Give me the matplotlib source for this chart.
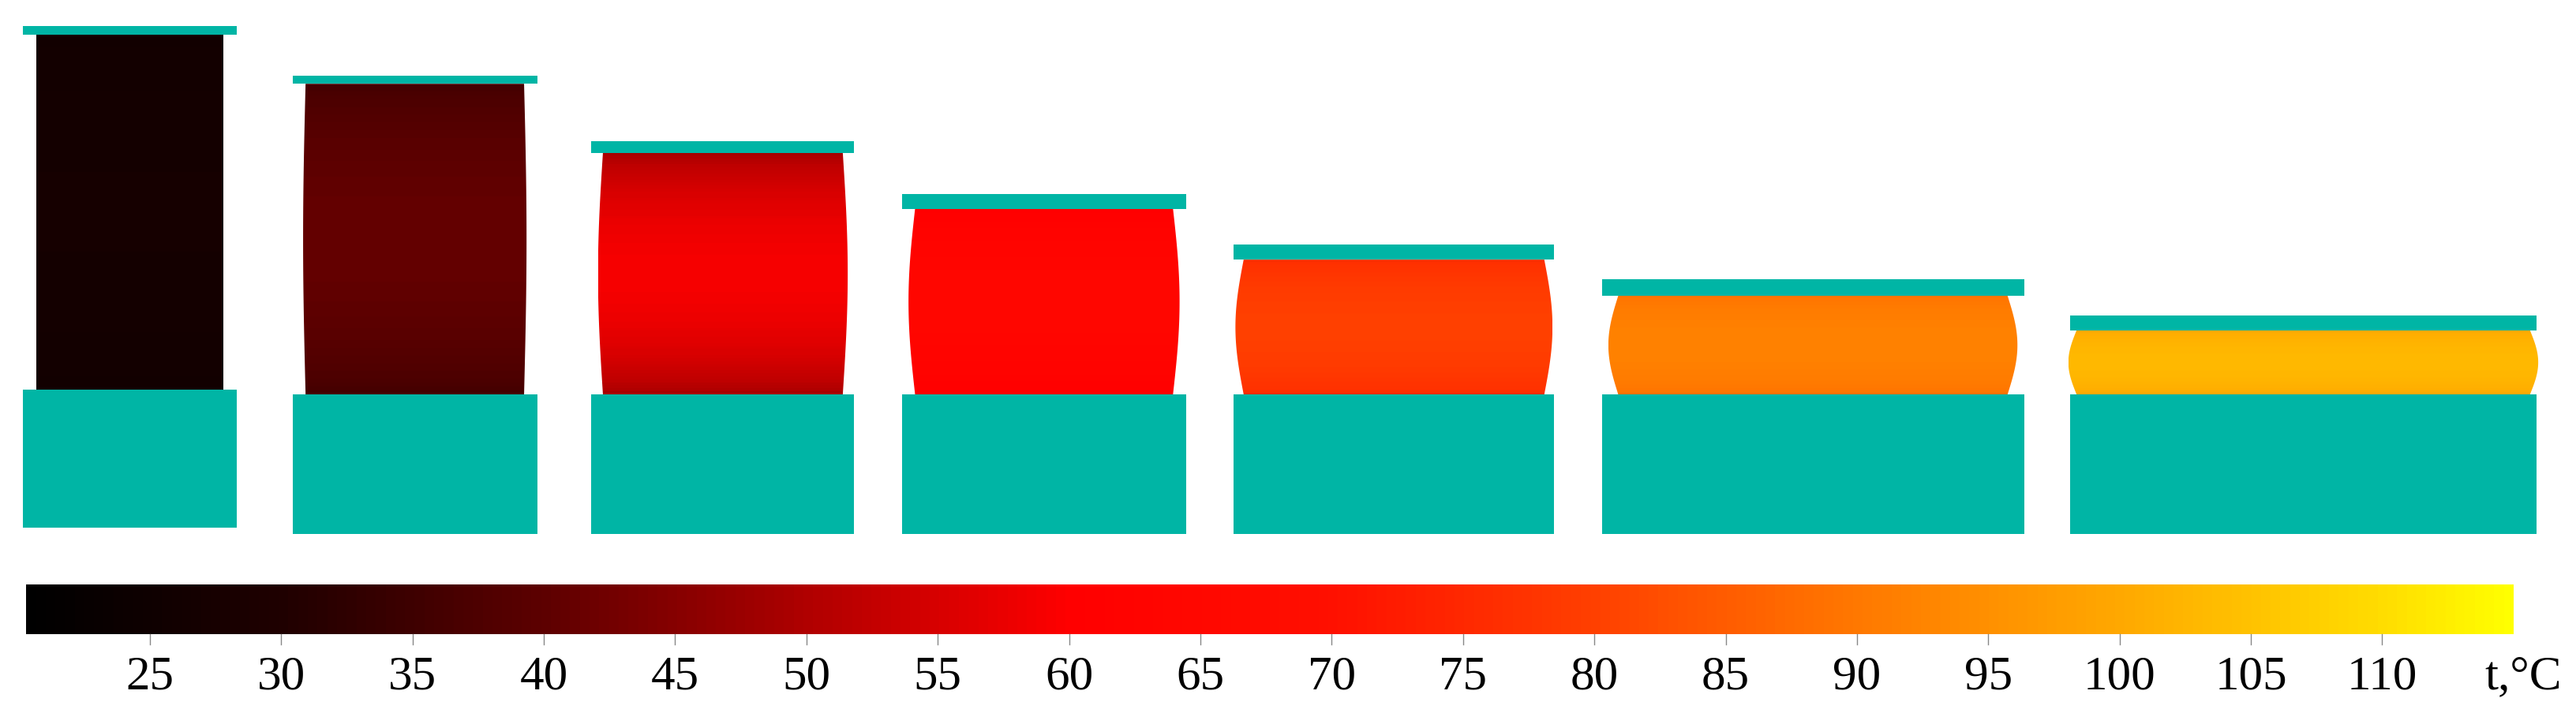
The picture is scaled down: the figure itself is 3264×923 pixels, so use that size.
import numpy as np
import matplotlib
matplotlib.use("Agg")
import matplotlib.pyplot as plt
from matplotlib.colors import LinearSegmentedColormap, Normalize
from matplotlib.patches import Rectangle, Polygon

# sample data (display units, y grows downward)
samples = ["1", "2", "3", "4", "5", "6", "7"]
x_left = [14, 178, 360, 549, 751, 975, 1260]
x_right = [144, 327, 520, 722, 946, 1232, 1544]
plate_top = [16, 46, 86, 118, 149, 170, 192]
body_top = [21, 51, 93, 127, 158, 180, 201]
base_top = [237, 240, 240, 240, 240, 240, 240]
base_bottom = [321, 325, 325, 325, 325, 325, 325]
body_inset = [8, 8, 7, 8, 6, 10, 4]
bulge = [0, 1.5, 3, 4, 5, 6, 5]
temp_core = [27, 41, 59, 64, 80, 92, 103]
temp_edge = [26, 36, 49, 60, 76, 89, 100]

tick_values = [25, 30, 35, 40, 45, 50, 55, 60, 65, 70, 75, 80, 85, 90, 95, 100, 105, 110]
unit_label = "t,°C"
t_min, t_max = 20.3, 115.0

def p(t):
    return (t - t_min) / (t_max - t_min)

cmap = LinearSegmentedColormap.from_list("temp", [
    (0.0, "#000000"), (p(30), "#200000"), (p(40), "#5e0000"),
    (p(50), "#b00000"), (p(60), "#ff0000"), (p(70), "#ff1000"),
    (p(80), "#ff4000"), (p(90), "#ff7800"), (p(100), "#ffa800"),
    (p(110), "#ffdc00"), (1.0, "#ffff00")])
norm = Normalize(t_min, t_max)
teal = "#00b5a5"

fig = plt.figure(figsize=(32.64, 9.23), dpi=100)
ax = fig.add_axes([0, 0, 1, 1])
ax.set_xlim(0, 1568)
ax.set_ylim(443, 0)
ax.axis("off")

for i in range(len(samples)):
    xl, xr = x_left[i], x_right[i]
    ax.add_patch(Rectangle((xl, base_top[i]), xr - xl, base_bottom[i] - base_top[i],
                           color=teal, lw=0, zorder=3))
    ax.add_patch(Rectangle((xl, plate_top[i]), xr - xl, body_top[i] - plate_top[i],
                           color=teal, lw=0, zorder=3))
    bl, br = xl + body_inset[i], xr - body_inset[i]
    yt, yb = body_top[i], base_top[i]
    s = np.linspace(0, 1, 80)
    ys = yt + (yb - yt) * s
    bx = bulge[i] * np.sin(np.pi * s)
    verts = list(zip(bl - bx, ys)) + list(zip((br + bx)[::-1], ys[::-1]))
    poly = Polygon(verts, closed=True, facecolor="none", edgecolor="none")
    ax.add_patch(poly)
    prof = temp_edge[i] + (temp_core[i] - temp_edge[i]) * np.sin(np.pi * s) ** 0.7
    img = np.tile(prof[:, None], (1, 10))
    im = ax.imshow(img, cmap=cmap, norm=norm, aspect="auto",
                   extent=(bl - bulge[i], br + bulge[i], yb, yt), origin="upper", zorder=2)
    im.set_clip_path(poly)

cb_x0, cb_x1, cb_y0, cb_y1 = 16, 1530, 356, 386
grad = np.linspace(t_min, t_max, 512)[None, :]
ax.imshow(grad, cmap=cmap, norm=norm, aspect="auto",
          extent=(cb_x0, cb_x1, cb_y1, cb_y0), zorder=2)

def tx(v):
    return cb_x0 + (v - t_min) / (t_max - t_min) * (cb_x1 - cb_x0)

for v in tick_values:
    x = tx(v)
    ax.plot([x, x], [cb_y1, cb_y1 + 6], color="#888888", lw=1)
    ax.text(x, 412, str(v), ha="center", va="center", fontsize=44,
            family="Liberation Serif", color="black")
ax.text(cb_x1 + 6, 412, unit_label, ha="center", va="center", fontsize=44,
        family="Liberation Serif", color="black")

fig.savefig("out.png", dpi=100, facecolor="white")
